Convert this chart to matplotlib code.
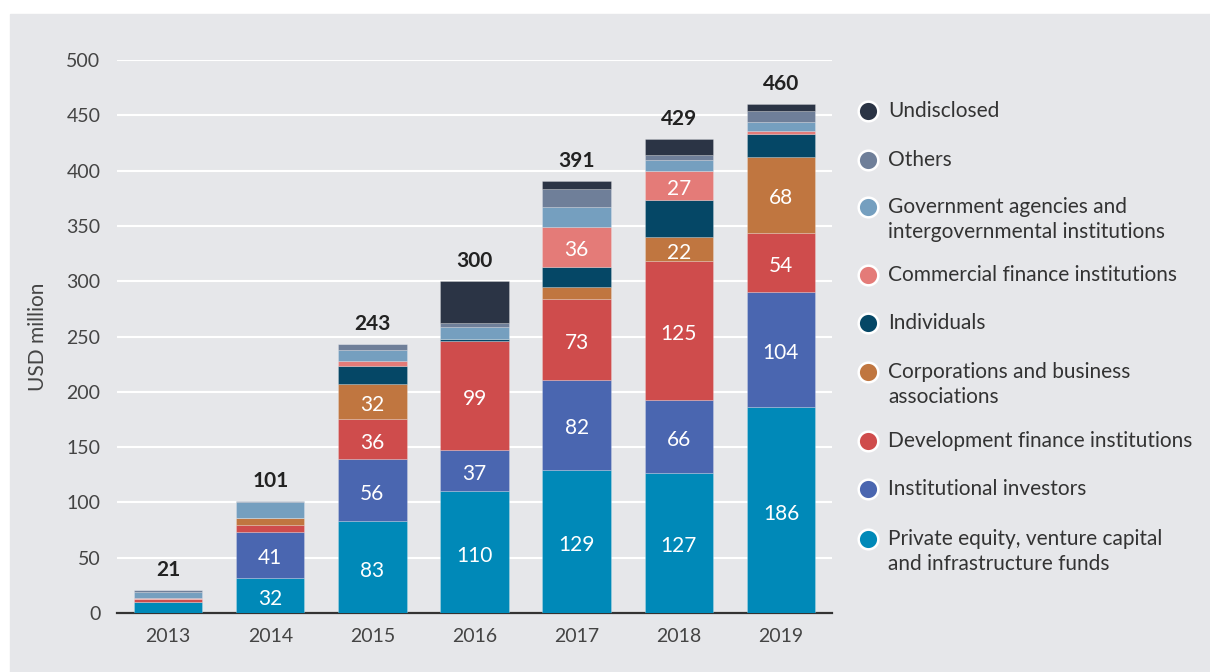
import matplotlib
matplotlib.use("Agg")
import matplotlib.pyplot as plt
import numpy as np

years = ["2013", "2014", "2015", "2016", "2017", "2018", "2019"]

# Series stacked bottom to top (USD million)
private_equity = [10, 32, 83, 110, 129, 127, 186]
institutional = [0, 41, 56, 37, 82, 66, 104]
development_fi = [2.5, 7, 36, 99, 73, 125, 54]
corporations = [0, 6, 32, 0, 11, 22, 68]
individuals = [0, 0, 16, 2, 18, 33, 21]
commercial_fi = [1, 0, 5, 0, 36, 27, 3]
government = [5.5, 14, 10, 11, 18, 10, 8]
others = [1.5, 1, 5, 3, 16, 4, 10]
undisclosed = [0.5, 0, 0, 38, 8, 15, 6]

totals = [21, 101, 243, 300, 391, 429, 460]

series_names = [
    "Private equity, venture capital\nand infrastructure funds",
    "Institutional investors",
    "Development finance institutions",
    "Corporations and business\nassociations",
    "Individuals",
    "Commercial finance institutions",
    "Government agencies and\nintergovernmental institutions",
    "Others",
    "Undisclosed",
]
series_values = [private_equity, institutional, development_fi, corporations,
                 individuals, commercial_fi, government, others, undisclosed]
colors = ["#0089b8", "#4a66b0", "#cf4c4c", "#c07640", "#054766",
          "#e47b78", "#759fbf", "#6f7f99", "#2b3445"]
labelled = {0, 1, 2, 3, 5}

plt.rcParams["font.family"] = ["Lato", "DejaVu Sans"]

W, H = 1210, 672
fig = plt.figure(figsize=(W / 100, H / 100), dpi=100)
fig.patch.set_facecolor("white")

# grey panel
bg = fig.add_axes([0, 0, 1, 1])
bg.set_xlim(0, W)
bg.set_ylim(H, 0)
bg.axis("off")
bg.add_patch(plt.Rectangle((10, 14), W - 10, H - 14, color="#e6e7ea", zorder=0))

ax = fig.add_axes([117 / W, 1 - 613 / H, (832 - 117) / W, (613 - 60) / H])
ax.set_facecolor("none")
x = np.arange(len(years))
bottom = np.zeros(len(years))
for i, (vals, col) in enumerate(zip(series_values, colors)):
    vals = np.array(vals, dtype=float)
    ax.bar(x, vals, bottom=bottom, width=0.67, color=col,
           edgecolor=(1, 1, 1, 0.25), linewidth=0.6, zorder=3)
    if i in labelled:
        for xi, v, b in zip(x, vals, bottom):
            if v >= 20:
                ax.annotate(f"{v:.0f}", (xi, b + v / 2), xytext=(0, -2.5),
                            textcoords="offset points", ha="center",
                            va="center", color="white", fontsize=15, zorder=4)
    bottom += vals

for xi, t in zip(x, totals):
    ax.text(xi, t + 9, f"{t}", ha="center", va="bottom", fontsize=15,
            fontweight="bold", color="#222222", zorder=4)

ax.set_xlim(-0.5, 6.5)
ax.set_ylim(0, 500)
ax.set_yticks(range(0, 501, 50))
ax.yaxis.grid(True, color="white", linewidth=1.5, zorder=0)
ax.set_axisbelow(True)
ax.set_xticks(x)
ax.set_xticklabels(years)
ax.tick_params(axis="both", length=0, labelsize=14, colors="#444444")
ax.tick_params(axis="x", pad=11)
ax.tick_params(axis="y", pad=12)
for s in ["top", "right", "left"]:
    ax.spines[s].set_visible(False)
ax.spines["bottom"].set_color("#333333")
ax.spines["bottom"].set_linewidth(1.6)
bg.text(38, 337, "USD million", rotation=90, ha="center", va="center",
        fontsize=15, color="#444444")

# legend, top to bottom
legend_y = [111, 160, 207, 275, 323, 372, 441, 489, 539]
line_step = 25
for idx, ly in zip(range(len(series_names) - 1, -1, -1), legend_y):
    bg.scatter([868], [ly], s=200, color=colors[idx], edgecolors="white",
               linewidths=1.8, zorder=5)
    for k, line in enumerate(series_names[idx].split("\n")):
        bg.text(888, ly + k * line_step, line, ha="left", va="center",
                fontsize=15, color="#333333")

fig.savefig("out.png", dpi=100, facecolor="white")
